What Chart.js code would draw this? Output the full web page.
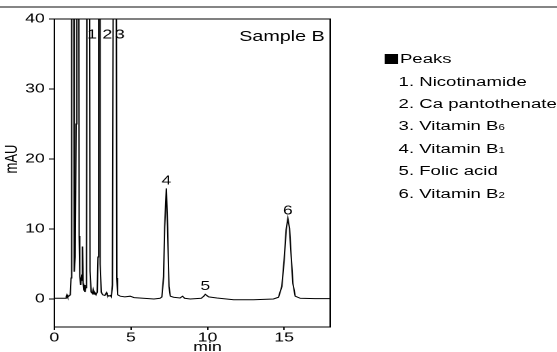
<!DOCTYPE html>
<html>
<head>
<meta charset="utf-8">
<script src="https://cdn.jsdelivr.net/npm/chart.js@4.4.1/dist/chart.umd.min.js"></script>
<style>
  html, body { margin: 0; padding: 0; background: #fff; overflow: hidden; }
  #rule { position: absolute; left: 0; top: 6px; width: 557px; height: 2px; background: #858585; }
  /* the reference is stretched sideways, so the whole chart is drawn narrow and scaled in x */
  #wrap { position: absolute; left: 0; top: 0; width: 410px; height: 352px;
          transform: scaleX(1.35854); transform-origin: 0 0; }
  #legend { position: absolute; left: 283.4px; top: 48.2px;
            font: 13.7px "Liberation Sans", Arial, sans-serif; color: #000; }
  #legend div { height: 22.4px; line-height: 22.4px; white-space: nowrap; }
  #legend .item { padding-left: 10px; }
  #legend .sq { display: inline-block; width: 10px; height: 10px; background: #000; vertical-align: -1px; margin-right: 1px; }
  #legend sub { font-size: 0.62em; vertical-align: 0; }
</style>
</head>
<body>
<div id="rule"></div>
<div id="wrap">
  <canvas id="chart" width="410" height="352"></canvas>
  <div id="legend"></div>
</div>
<script>
// chromatogram trace (min, mAU)
const time = [
  0, 0.5, 0.72, 0.78, 0.82, 0.87, 0.95, 1.04, 1.09, 1.13,
  1.17, 1.21, 1.25, 1.28, 1.32, 1.36, 1.42, 1.47, 1.53, 1.58,
  1.62, 1.66, 1.72, 1.78, 1.82, 1.85, 1.88, 1.92, 1.96, 2.0,
  2.05, 2.1, 2.14, 2.21, 2.29, 2.33, 2.4, 2.48, 2.53, 2.58,
  2.65, 2.72, 2.8, 2.85, 2.89, 2.93, 2.97, 3.01, 3.06, 3.15,
  3.3, 3.4, 3.45, 3.55, 3.65, 3.72, 3.79, 3.86, 3.95, 4.03,
  4.08, 4.13, 4.3, 4.6, 4.95, 5.2, 5.8, 6.5, 6.9, 7.02,
  7.13, 7.2, 7.31, 7.39, 7.48, 7.57, 7.78, 8.2, 8.37, 8.5,
  8.87, 9.59, 9.75, 9.85, 9.95, 10.07, 10.61, 11.7, 13.0, 14.3,
  14.63, 14.85, 15.0, 15.13, 15.24, 15.35, 15.46, 15.57, 15.72, 16.05,
  17.0, 18.0
];
const signal = [
  0.1, 0.1, 0.1, 0.4, 0.6, 0.3, 0.4, 0.6, 3, 40,
  220, 260, 90, 15, 3.9, 6, 25, 90, 240, 80,
  9, 3.2, 2.0, 3.5, 2.6, 7.5, 2.2, 1.2, 2.0, 1.0,
  1.6, 5, 60, 280, 60, 4, 1.0, 0.8, 1.3, 0.7,
  0.9, 0.6, 1.0, 6, 80, 300, 70, 5, 1.0, 0.6,
  0.5, 0.9, 0.6, 0.4, 0.5, 0.3, 2, 60, 260, 60,
  3, 0.6, 0.4, 0.3, 0.4, 0.2, 0.1, 0.0, 0.1, 0.3,
  3.2, 10.3, 15.8, 10.3, 1.8, 0.4, 0.25, 0.15, 0.4, 0.1,
  0.0, 0.1, 0.4, 0.67, 0.5, 0.3, 0.15, -0.1, -0.1, 0.0,
  0.25, 1.8, 5.6, 9.9, 11.5, 10.1, 6.0, 2.2, 0.4, 0.1,
  0.05, 0.05
];

const xTicks = [0, 5, 10, 15];
const yTicks = [0, 10, 20, 30, 40];

// peak numbers and where they are written (min, mAU)
const peakNames = ['1', '2', '3', '4', '5', '6'];
const peakLabelX = [2.46, 3.46, 4.28, 7.31, 9.85, 15.24];
const peakLabelY = [37.7, 37.7, 37.7, 16.9, 1.8, 12.6];
const compounds = ['Nicotinamide', 'Ca pantothenate', 'Vitamin B6', 'Vitamin B1', 'Folic acid', 'Vitamin B2'];

const sampleName = 'Sample B';
const xTitle = 'min';
const yTitle = 'mAU';

const font = '"Liberation Sans", Arial, sans-serif';

// legend block on the right
const legend = document.getElementById('legend');
legend.innerHTML = '<div><span class="sq"></span>Peaks</div>' +
  compounds.map((c, i) => '<div class="item">' + peakNames[i] + '. ' +
    c.replace(/B(\d)$/, 'B<sub>$1</sub>') + '</div>').join('');

const decor = {
  id: 'decor',
  afterDraw(chart) {
    const { ctx, chartArea: a, scales: { x, y } } = chart;
    ctx.save();
    ctx.strokeStyle = '#000';
    ctx.lineWidth = 1;
    ctx.strokeRect(a.left, a.top, a.right - a.left, a.bottom - a.top);
    ctx.fillStyle = '#000';

    ctx.font = '14.5px ' + font;
    ctx.textAlign = 'right';
    ctx.textBaseline = 'alphabetic';
    ctx.fillText(sampleName, a.right - 4, a.top + 22);

    ctx.font = '13px ' + font;
    ctx.textAlign = 'center';
    ctx.textBaseline = 'middle';
    peakNames.forEach((n, i) => {
      ctx.fillText(n, x.getPixelForValue(peakLabelX[i]), y.getPixelForValue(peakLabelY[i]));
    });

    ctx.textBaseline = 'top';
    ctx.fillText(xTitle, x.getPixelForValue(10), 341);

    ctx.translate(9, y.getPixelForValue(20));
    ctx.rotate(-Math.PI / 2);
    ctx.textBaseline = 'middle';
    ctx.fillText(yTitle, 0, 0);
    ctx.restore();
  }
};

new Chart(document.getElementById('chart'), {
  type: 'line',
  data: {
    datasets: [{
      data: time.map((t, i) => ({ x: t, y: signal[i] })),
      borderColor: '#000',
      borderWidth: 1,
      pointRadius: 0,
      tension: 0
    }]
  },
  options: {
    responsive: false,
    animation: false,
    devicePixelRatio: 2,
    layout: { padding: { left: 0, right: 167, top: 19, bottom: 0 } },
    plugins: { legend: { display: false }, tooltip: { enabled: false } },
    scales: {
      x: {
        type: 'linear',
        min: 0,
        max: 18,
        afterBuildTicks: s => { s.ticks = xTicks.map(v => ({ value: v })); },
        afterFit: s => { s.height = 25; },
        ticks: { color: '#000', font: { family: font, size: 13 }, padding: 0, maxRotation: 0 },
        grid: { drawOnChartArea: false, tickLength: 3, color: '#000' },
        border: { display: false }
      },
      y: {
        type: 'linear',
        min: -4,
        max: 40,
        afterBuildTicks: s => { s.ticks = yTicks.map(v => ({ value: v })); },
        afterFit: s => { s.width = 40; },
        ticks: { color: '#000', font: { family: font, size: 13 }, padding: 3 },
        grid: { drawOnChartArea: false, tickLength: 4, color: '#000' },
        border: { display: false }
      }
    }
  },
  plugins: [decor]
});
</script>
</body>
</html>
